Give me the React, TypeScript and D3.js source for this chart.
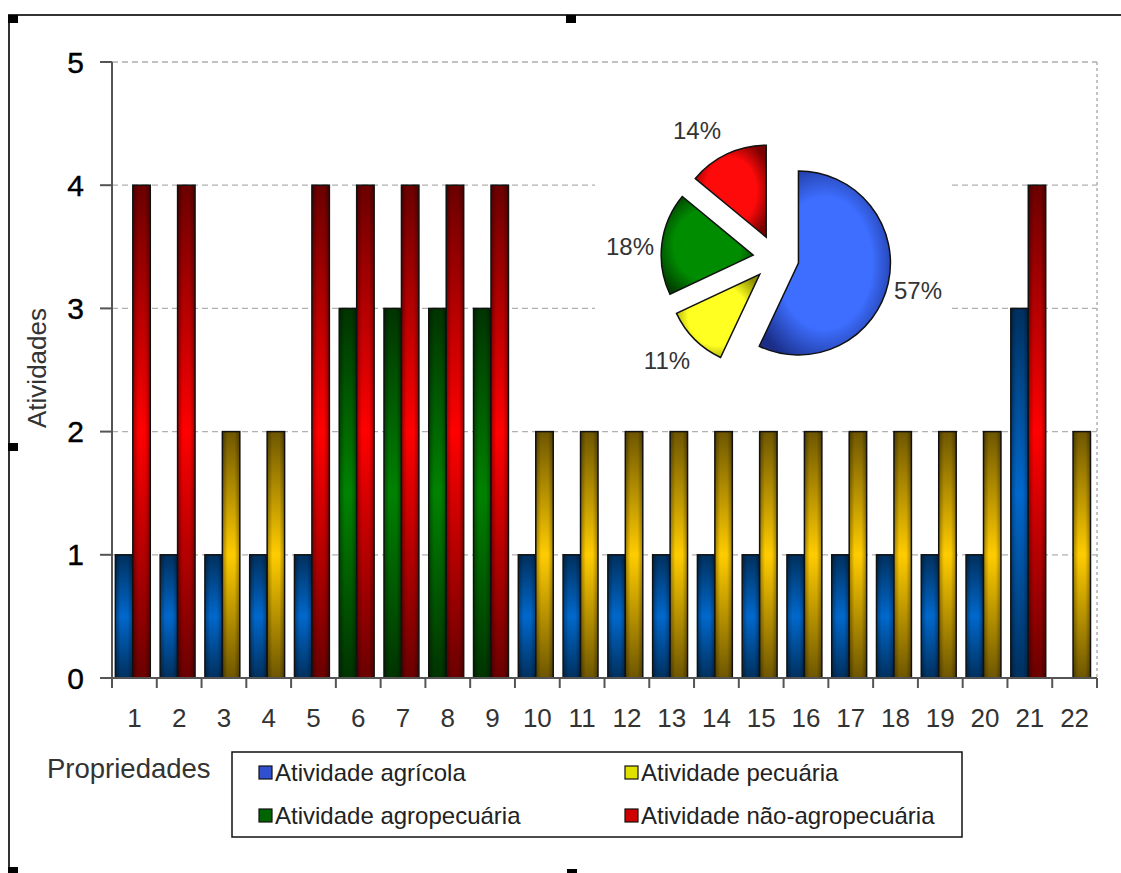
import React from "react";
import * as d3 from "d3";

const properties = ["1","2","3","4","5","6","7","8","9","10","11","12","13","14","15","16","17","18","19","20","21","22"];
const agricola     = [1,1,1,1,1,0,0,0,0,1,1,1,1,1,1,1,1,1,1,1,3,0];
const pecuaria     = [0,0,2,2,0,0,0,0,0,2,2,2,2,2,2,2,2,2,2,2,0,2];
const agropecuaria = [0,0,0,0,0,3,3,3,3,0,0,0,0,0,0,0,0,0,0,0,0,0];
const naoAgro      = [4,4,0,0,4,4,4,4,4,0,0,0,0,0,0,0,0,0,0,0,4,0];
const yTicks = [0,1,2,3,4,5];

const pieLabels = ["57%","11%","18%","14%"];
const pieShares = [57,11,18,14];

const seriesNames = ["Atividade agrícola","Atividade pecuária","Atividade agropecuária","Atividade não-agropecuária"];

const FONT = "'Liberation Sans', Arial, sans-serif";

export default function App() {
  const X0 = 112, X1 = 1097, Y0 = 678, Y5 = 62;
  const x = d3.scaleBand<string>().domain(properties).range([X0, X1]).padding(0);
  const y = d3.scaleLinear().domain([0, 5]).range([Y0, Y5]);
  const bw = x.bandwidth();
  const barW = bw * 0.39;
  const off = bw * 0.075;

  const series = [
    { key: "agr", values: agricola, slot: 0, grad: "gBlue" },
    { key: "pec", values: pecuaria, slot: 1, grad: "gGold" },
    { key: "agp", values: agropecuaria, slot: 0, grad: "gGreen" },
    { key: "nao", values: naoAgro, slot: 1, grad: "gRed" },
  ];

  const barGrads = [
    { id: "gBlue", dark: "#00305e", bright: "#0068cc" },
    { id: "gGold", dark: "#6e5600", bright: "#ffcc00" },
    { id: "gGreen", dark: "#003300", bright: "#008200" },
    { id: "gRed", dark: "#6a0000", bright: "#ff0000" },
  ];

  const pcx = 776, pcy = 258, pr = 92, explode = 23;
  const pie = d3.pie<number>().sort(null).startAngle(0).endAngle(2 * Math.PI)(pieShares);
  const arc = d3.arc<d3.PieArcDatum<number>>().innerRadius(0).outerRadius(pr);
  const pieGrads = [
    { id: "pBlue", c: "#3d6eff", e: "#1a2e88" },
    { id: "pYellow", c: "#ffff22", e: "#8c8c00" },
    { id: "pGreen", c: "#008c00", e: "#003d00" },
    { id: "pRed", c: "#ff0a0a", e: "#7a0000" },
  ];
  const pieLabelPos = [[918, 290], [667, 360], [630, 246], [697, 130]];

  const legendSw = ["#3050d0", "#e0e000", "#006400", "#d00000"];
  const legendPos = [[259, 772], [625, 772], [259, 815], [625, 815]];

  return (
    <svg width={1121} height={873} style={{ position: "absolute", left: 0, top: 0, background: "#fff" }} fontFamily={FONT}>
      <defs>
        {barGrads.map(g => (
          <linearGradient key={g.id} id={g.id} x1="0" y1="0" x2="0" y2="1">
            <stop offset="0" stopColor={g.dark} />
            <stop offset="0.5" stopColor={g.bright} />
            <stop offset="1" stopColor={g.dark} />
          </linearGradient>
        ))}
        <linearGradient id="hShade" x1="0" y1="0" x2="1" y2="0">
          <stop offset="0" stopColor="#000" stopOpacity="0.35" />
          <stop offset="0.3" stopColor="#000" stopOpacity="0" />
          <stop offset="0.7" stopColor="#000" stopOpacity="0" />
          <stop offset="1" stopColor="#000" stopOpacity="0.35" />
        </linearGradient>
        {pieGrads.map(g => (
          <radialGradient key={g.id} id={g.id} cx="0.5" cy="0.5" r="0.6">
            <stop offset="0" stopColor={g.c} />
            <stop offset="0.6" stopColor={g.c} />
            <stop offset="1" stopColor={g.e} />
          </radialGradient>
        ))}
      </defs>

      <rect x={9} y={15} width={1130} height={870} fill="none" stroke="#333" strokeWidth={2} />
      <rect x={8} y={15} width={10} height={8} fill="#000" />
      <rect x={566} y={15} width={10} height={8} fill="#000" />
      <rect x={8} y={443} width={10} height={8} fill="#000" />
      <rect x={8} y={867} width={10} height={8} fill="#000" />
      <rect x={567} y={869} width={10} height={8} fill="#000" />

      {yTicks.filter(t => t > 0).map(t => (
        <line key={t} x1={X0} x2={X1} y1={y(t)} y2={y(t)} stroke="#b0b0b0" strokeWidth={1.3} strokeDasharray="6,4" />
      ))}
      <line x1={X1} x2={X1} y1={Y5} y2={Y0} stroke="#b0b0b0" strokeWidth={1.5} strokeDasharray="3,3" />

      {series.map(s => (
        <g key={s.key}>
          {s.values.map((v, i) => v > 0 ? (
            <g key={i}>
              <rect x={(x(properties[i]) as number) + off + s.slot * barW} y={y(v)} width={barW} height={y(0) - y(v)}
                fill={`url(#${s.grad})`} />
              <rect x={(x(properties[i]) as number) + off + s.slot * barW} y={y(v)} width={barW} height={y(0) - y(v)}
                fill="url(#hShade)" stroke="#111" strokeWidth={1.5} />
            </g>
          ) : null)}
        </g>
      ))}

      <line x1={X0} x2={X0} y1={Y5} y2={Y0} stroke="#555" strokeWidth={2} />
      <line x1={X0} x2={X1} y1={Y0} y2={Y0} stroke="#555" strokeWidth={2} />
      {yTicks.map(t => (
        <g key={t}>
          <line x1={X0 - 12} x2={X0} y1={y(t)} y2={y(t)} stroke="#555" strokeWidth={2} />
          <text x={84} y={y(t)} textAnchor="end" dominantBaseline="central" fontSize={30} fill="#000" stroke="#000" strokeWidth={0.4}>{t}</text>
        </g>
      ))}
      {properties.map(p => (
        <line key={"t" + p} x1={(x(p) as number)} x2={(x(p) as number)} y1={Y0} y2={Y0 + 10} stroke="#555" strokeWidth={2} />
      ))}
      <line x1={X1} x2={X1} y1={Y0} y2={Y0 + 10} stroke="#555" strokeWidth={2} />
      {properties.map(p => (
        <text key={"l" + p} x={(x(p) as number) + bw / 2} y={718} textAnchor="middle" dominantBaseline="central" fontSize={26} fill="#333">{p}</text>
      ))}

      <text x={47} y={768} dominantBaseline="central" fontSize={27.5} fill="#333">Propriedades</text>
      <text transform="translate(37,368) rotate(-90)" textAnchor="middle" dominantBaseline="central" fontSize={26} fill="#333">Atividades</text>

      <rect x={595} y={100} width={353} height={280} fill="#fff" />
      {pie.map((a, i) => {
        const mid = (a.startAngle + a.endAngle) / 2;
        const dx = Math.sin(mid) * explode, dy = -Math.cos(mid) * explode;
        return (
          <path key={i} d={arc(a) as string} transform={`translate(${pcx + dx},${pcy + dy})`}
            fill={`url(#${pieGrads[i].id})`} stroke="#111" strokeWidth={1.5} />
        );
      })}
      {pieLabels.map((l, i) => (
        <text key={l} x={pieLabelPos[i][0]} y={pieLabelPos[i][1]} textAnchor="middle" dominantBaseline="central" fontSize={24} fill="#333">{l}</text>
      ))}

      <rect x={232} y={752} width={730} height={85} fill="#fff" stroke="#111" strokeWidth={1.5} />
      {seriesNames.map((n, i) => (
        <g key={n}>
          <rect x={legendPos[i][0]} y={legendPos[i][1] - 6} width={13} height={13} fill={legendSw[i]} stroke="#111" strokeWidth={1.2} />
          <text x={legendPos[i][0] + 16} y={legendPos[i][1]} dominantBaseline="central" fontSize={24} fill="#222">{n}</text>
        </g>
      ))}
    </svg>
  );
}
